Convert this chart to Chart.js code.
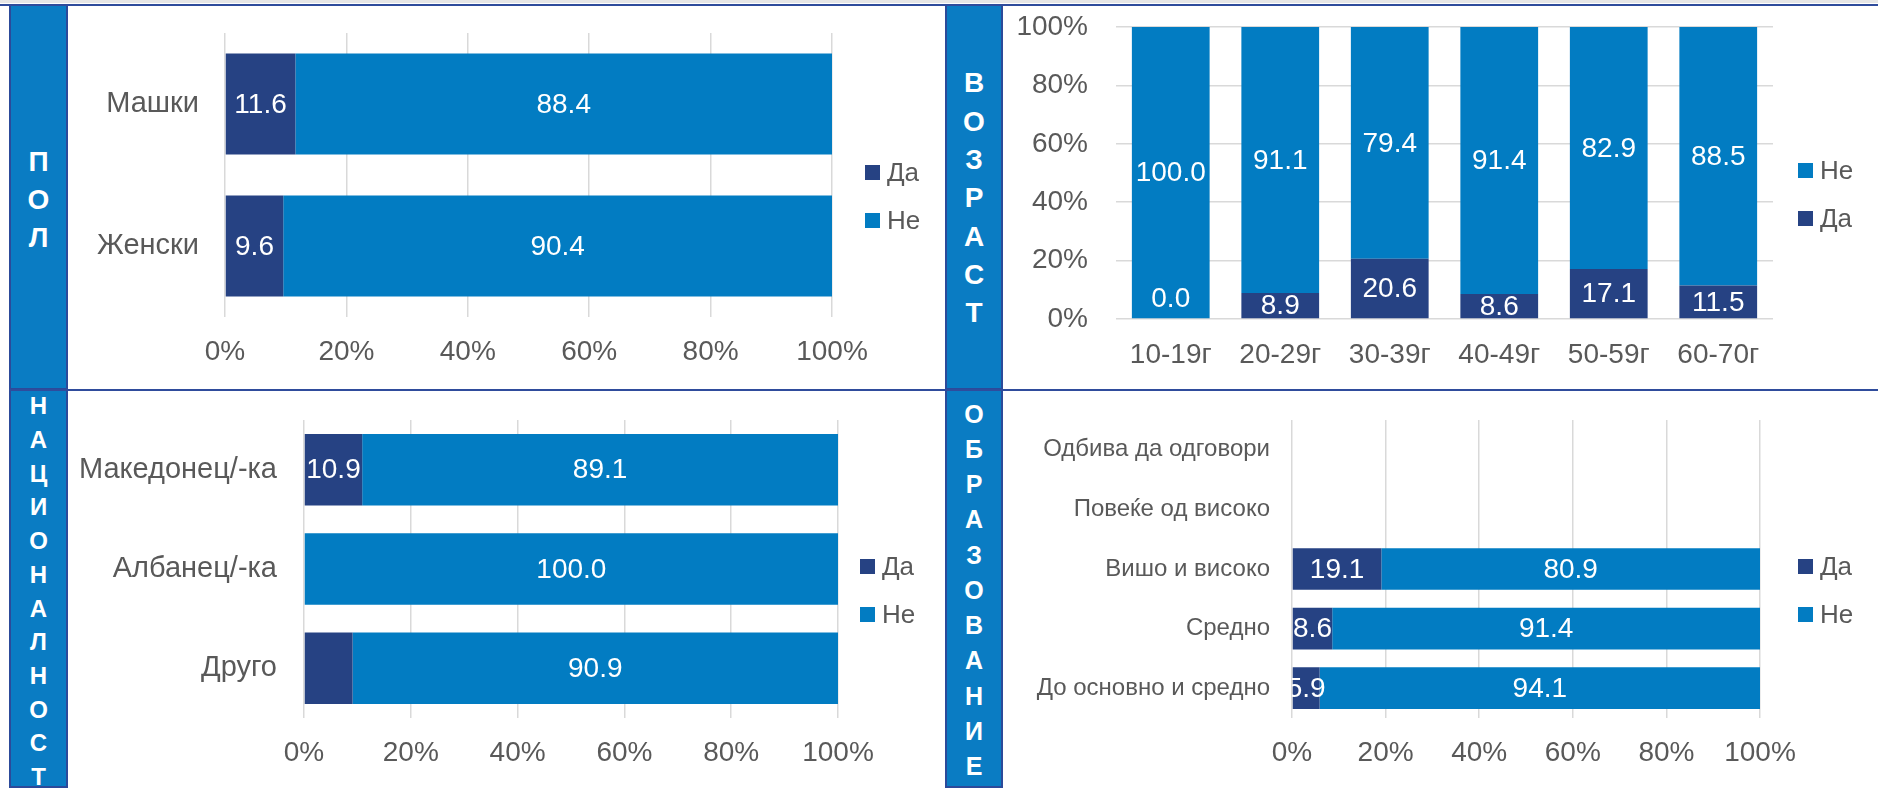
<!DOCTYPE html>
<html>
<head>
<meta charset="utf-8">
<script src="https://cdn.jsdelivr.net/npm/chart.js@4.4.1/dist/chart.umd.min.js"></script>
<style>
body{margin:0;width:1878px;height:788px;overflow:hidden;background:#fff;position:relative;font-family:'Liberation Sans',Arial,sans-serif}
.topband{position:absolute;left:0;top:0;width:1878px;height:3px;background:#e6e6e6}
.hline{position:absolute;left:9px;width:1869px;height:2px;background:#2f4c9c;z-index:3}
.strip{position:absolute;width:59px;background:#0a7cc3;border:2px solid #2c4a9a;box-sizing:border-box;display:flex;flex-direction:column;justify-content:center;align-items:center;color:#fff;font-weight:bold;overflow:hidden;z-index:2}
.strip div{text-align:center}
canvas{position:absolute}
</style>
</head>
<body>
<div class="topband"></div>
<div class="hline" style="top:4px;left:0;width:1878px"></div>
<div class="hline" style="top:389px"></div>

<div class="strip" id="s1" style="left:9px;top:4px;height:386px;font-size:28px;line-height:38px;padding-top:6px"></div>
<div class="strip" id="s2" style="left:945px;top:4px;height:386px;width:58px;font-size:28px;line-height:38.3px;padding-top:3px"></div>
<div class="strip" id="s3" style="left:9px;top:389px;height:399px;font-size:24px;line-height:33.7px;padding-top:6px"></div>
<div class="strip" id="s4" style="left:945px;top:389px;height:399px;width:58px;font-size:25px;line-height:35.2px;padding-top:4px"></div>

<canvas id="c1" width="877" height="383" style="left:68px;top:6px"></canvas>
<canvas id="c2" width="876" height="383" style="left:1002px;top:6px"></canvas>
<canvas id="c3" width="877" height="397" style="left:68px;top:391px"></canvas>
<canvas id="c4" width="876" height="397" style="left:1002px;top:391px"></canvas>

<script>
// боење
var DA = '#264283';
var NE = '#027cc2';
var GRAY = '#595959';
var FONT = "'Liberation Sans', Arial, sans-serif";

// пол
var polLabels = ['Машки', 'Женски'];
var polDa = [11.6, 9.6];
var polNe = [88.4, 90.4];

// возраст
var vozLabels = ['10-19г', '20-29г', '30-39г', '40-49г', '50-59г', '60-70г'];
var vozDa = [0.0, 8.9, 20.6, 8.6, 17.1, 11.5];
var vozNe = [100.0, 91.1, 79.4, 91.4, 82.9, 88.5];

// националност
var natLabels = ['Македонец/-ка', 'Албанец/-ка', 'Друго'];
var natDa = [10.9, 0, 9.1];
var natNe = [89.1, 100.0, 90.9];
var natDaShown = [true, false, false];

// образование
var obrLabels = ['Одбива да одговори', 'Повеќе од високо', 'Вишо и високо', 'Средно', 'До основно и средно'];
var obrDa = [null, null, 19.1, 8.6, 5.9];
var obrNe = [null, null, 80.9, 91.4, 94.1];

var pctTicks = [0, 20, 40, 60, 80, 100];

// вертикални натписи
function fillStrip(id, text) {
  var el = document.getElementById(id);
  text.split('').forEach(function (ch) {
    var d = document.createElement('div');
    d.textContent = ch;
    el.appendChild(d);
  });
}
fillStrip('s1', 'ПОЛ');
fillStrip('s2', 'ВОЗРАСТ');
fillStrip('s3', 'НАЦИОНАЛНОСТ');
fillStrip('s4', 'ОБРАЗОВАНИЕ');

// вредности во столбовите
var valueLabels = {
  id: 'valueLabels',
  afterDatasetsDraw: function (chart, args, opts) {
    var ctx = chart.ctx, a = chart.chartArea;
    ctx.save();
    ctx.beginPath();
    ctx.rect(a.left, a.top, a.right - a.left, a.bottom - a.top);
    ctx.clip();
    ctx.fillStyle = '#fff';
    ctx.font = opts.size + 'px ' + FONT;
    ctx.textAlign = 'center';
    ctx.textBaseline = 'middle';
    chart.data.datasets.forEach(function (ds, i) {
      chart.getDatasetMeta(i).data.forEach(function (bar, j) {
        var v = ds.data[j];
        if (v == null) return;
        if (ds.shown && !ds.shown[j]) return;
        var x, y;
        if (chart.options.indexAxis === 'y') {
          x = (bar.x + bar.base) / 2; y = bar.y;
        } else {
          x = bar.x; y = (bar.y + bar.base) / 2;
          if (v === 0) y = bar.base - 21;
        }
        ctx.fillText(v.toFixed(1), x, y + 1);
      });
    });
    ctx.restore();
  }
};

// легенда десно
var sideLegend = {
  id: 'sideLegend',
  afterDraw: function (chart, args, opts) {
    var ctx = chart.ctx;
    ctx.save();
    ctx.font = '26px ' + FONT;
    ctx.textBaseline = 'middle';
    ctx.textAlign = 'left';
    opts.order.forEach(function (di, k) {
      var ds = chart.data.datasets[di];
      var y = opts.y + k * opts.gap;
      ctx.fillStyle = ds.backgroundColor;
      ctx.fillRect(opts.x, y - 7.5, 15, 15);
      ctx.fillStyle = GRAY;
      ctx.fillText(ds.label, opts.x + 22, y + 1);
    });
    ctx.restore();
  }
};

function noPad(sc) {
  sc.paddingTop = 0; sc.paddingBottom = 0; sc.paddingLeft = 0; sc.paddingRight = 0;
}

function makeChart(id, s) {
  var horiz = s.horizontal;
  var valueAxis = {
    stacked: true, min: 0, max: 100,
    afterBuildTicks: function (sc) { sc.ticks = pctTicks.map(function (v) { return { value: v }; }); },
    ticks: { color: GRAY, font: { size: 28, family: FONT }, padding: horiz ? s.xPad : s.yPad,
      callback: function (v) { return v + '%'; } },
    grid: { color: '#d9d9d9', lineWidth: 1.5, drawTicks: false },
    border: { display: false }
  };
  var catAxis = {
    stacked: true,
    ticks: { color: GRAY, font: { size: s.catSize, family: FONT }, padding: horiz ? s.yPad : s.xPad,
      autoSkip: false, maxRotation: 0 },
    grid: { display: false, drawTicks: false },
    border: { display: false }
  };
  var xAxis = horiz ? valueAxis : catAxis;
  var yAxis = horiz ? catAxis : valueAxis;
  xAxis.afterFit = function (sc) { sc.height = s.xH; noPad(sc); };
  yAxis.afterFit = function (sc) { sc.width = s.yW; noPad(sc); };

  return new Chart(document.getElementById(id), {
    type: 'bar',
    data: {
      labels: s.labels,
      datasets: [
        { label: 'Да', data: s.da, backgroundColor: DA, shown: s.daShown,
          categoryPercentage: s.cat, barPercentage: 1 },
        { label: 'Не', data: s.ne, backgroundColor: NE,
          categoryPercentage: s.cat, barPercentage: 1 }
      ]
    },
    options: {
      indexAxis: horiz ? 'y' : 'x',
      responsive: false,
      animation: false,
      layout: { autoPadding: false, padding: { top: s.padTop, right: s.padRight, left: 0, bottom: 0 } },
      scales: { x: xAxis, y: yAxis },
      plugins: {
        legend: { display: false },
        tooltip: { enabled: false },
        valueLabels: { size: 28 },
        sideLegend: { x: s.legX, y: s.legY, gap: 48, order: s.legOrder }
      }
    },
    plugins: [valueLabels, sideLegend]
  });
}

makeChart('c1', {
  horizontal: true, labels: polLabels, da: polDa, ne: polNe, cat: 0.71, catSize: 29,
  padTop: 27, padRight: 113, yW: 157, xH: 72, yPad: 26, xPad: 18,
  legX: 797, legY: 166.5, legOrder: [0, 1]
});
makeChart('c2', {
  horizontal: false, labels: vozLabels, da: vozDa, ne: vozNe, cat: 0.71, catSize: 28,
  padTop: 21, padRight: 105, yW: 114, xH: 70, yPad: 28, xPad: 19,
  legX: 796, legY: 164.5, legOrder: [1, 0]
});
makeChart('c3', {
  horizontal: true, labels: natLabels, da: natDa, ne: natNe, daShown: natDaShown, cat: 0.72, catSize: 29,
  padTop: 29, padRight: 107, yW: 236, xH: 70, yPad: 27, xPad: 18,
  legX: 792, legY: 175.5, legOrder: [0, 1]
});
makeChart('c4', {
  horizontal: true, labels: obrLabels, da: obrDa, ne: obrNe, cat: 0.70, catSize: 24,
  padTop: 29, padRight: 118, yW: 290, xH: 70, yPad: 22, xPad: 18,
  legX: 796, legY: 175.5, legOrder: [0, 1]
});
</script>
</body>
</html>
